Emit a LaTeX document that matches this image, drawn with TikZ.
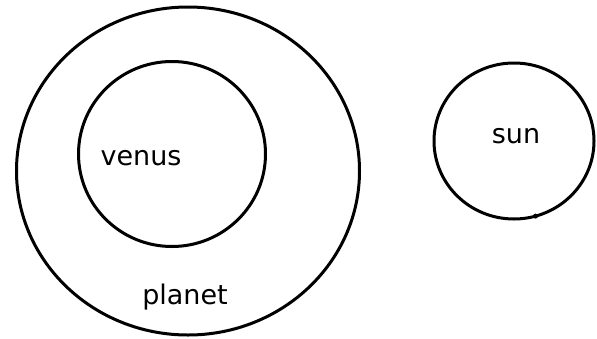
\documentclass[tikz,border=0pt]{standalone}
\usepackage{fontspec}
\setmainfont{DejaVu Sans}
\usetikzlibrary{shapes.geometric}
\usetikzlibrary{positioning}

\begin{document}
\begin{tikzpicture}[
			x=1pt, y=-1pt,
			orbit/.style={
					draw,
					ellipse,
					line width=3pt,
					inner sep=0pt,
					outer sep=0pt
				},
			label/.style={
					font=\fontsize{27}{30}\selectfont,
					inner sep=0pt
				}
		]
		\useasboundingbox (0, 0) rectangle (597, 338);

		\node[orbit, minimum width=343pt, minimum height=328pt] (planet) at (188, 171) {};
		\node[orbit, minimum width=187pt, minimum height=185pt] (venus) at (172, 154) {};
		\node[orbit, minimum width=160pt, minimum height=156pt] (sun) at (514, 141) {};

		\node[label] (venustext) at (141, 158) {venus};
		\node[label] (planettext) at (185, 297) {planet};
		\node[label] (suntext) at (516, 136) {sun};

		% small blot on the sun's rim
		\fill (sun.-74) circle (2.5pt);
	\end{tikzpicture}
\end{document}
